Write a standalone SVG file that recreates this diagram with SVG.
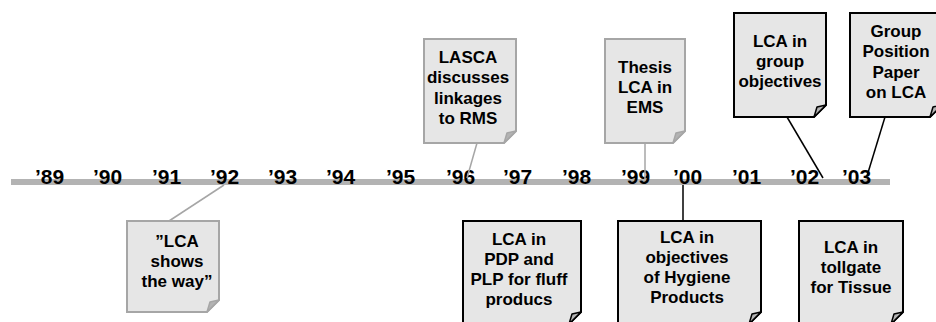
<svg xmlns="http://www.w3.org/2000/svg" width="936" height="322" viewBox="0 0 936 322">
  <style>
    .yr { font-family: "Liberation Sans", Arial, sans-serif; font-weight: bold; font-size: 21px; fill: #000; }
    .nt { font-family: "Liberation Sans", Arial, sans-serif; font-weight: bold; font-size: 17px; fill: #000; text-anchor: middle; }
    .note-g { fill: #e6e6e6; stroke: #a6a6a6; stroke-width: 2; stroke-linejoin: miter; }
    .note-k { fill: #e6e6e6; stroke: #000; stroke-width: 2; stroke-linejoin: miter; }
    .flap-g { fill: #b3b3b3; stroke: #a6a6a6; stroke-width: 1.5; stroke-linejoin: round; }
    .flap-k { fill: #b3b3b3; stroke: #000; stroke-width: 1.5; stroke-linejoin: round; }
    .ln-g { stroke: #a6a6a6; stroke-width: 1.5; fill: none; }
    .ln-k { stroke: #000; stroke-width: 1.5; fill: none; }
  </style>

  <!-- timeline bar -->
  <g id="timeline">
    <rect x="11" y="179" width="879" height="6" fill="#b3b3b3"/>
    <text class="yr" x="35" y="184">’89</text>
    <text class="yr" x="93" y="184">’90</text>
    <text class="yr" x="152" y="184">’91</text>
    <text class="yr" x="210" y="184">’92</text>
    <text class="yr" x="268" y="184">’93</text>
    <text class="yr" x="326" y="184">’94</text>
    <text class="yr" x="386" y="184">’95</text>
    <text class="yr" x="446" y="184">’96</text>
    <text class="yr" x="503" y="184">’97</text>
    <text class="yr" x="562" y="184">’98</text>
    <text class="yr" x="621" y="184">’99</text>
    <text class="yr" x="673" y="184">’00</text>
    <text class="yr" x="732" y="184">’01</text>
    <text class="yr" x="790" y="184">’02</text>
    <text class="yr" x="842" y="184">’03</text>
  </g>

  <!-- notes: folded-corner boxes -->
  <g id="note-shows-the-way">
    <path class="note-g" d="M127 221 H219 V300 L207 312 H127 Z"/>
    <path class="flap-g" d="M219 300 L207 312 L210 302 Z"/>
    <text class="nt" x="177" y="247">”LCA</text>
    <text class="nt" x="177" y="267">shows</text>
    <text class="nt" x="177" y="287">the way”</text>
  </g>

  <g id="note-lasca">
    <path class="note-g" d="M424 39 H516 V131 L504 143 H424 Z"/>
    <path class="flap-g" d="M516 131 L504 143 L507 133 Z"/>
    <text class="nt" x="468" y="63">LASCA</text>
    <text class="nt" x="468" y="83">discusses</text>
    <text class="nt" x="468" y="104">linkages</text>
    <text class="nt" x="468" y="124">to RMS</text>
  </g>

  <g id="note-thesis">
    <path class="note-g" d="M605 39 H685 V131 L673 143 H605 Z"/>
    <path class="flap-g" d="M685 131 L673 143 L676 133 Z"/>
    <text class="nt" x="645" y="73">Thesis</text>
    <text class="nt" x="645" y="93">LCA in</text>
    <text class="nt" x="645" y="113">EMS</text>
  </g>

  <g id="note-group-objectives">
    <path class="note-k" d="M734 13 H826 V105 L814 117 H734 Z"/>
    <path class="flap-k" d="M826 105 L814 117 L817 107 Z"/>
    <text class="nt" x="780" y="47">LCA in</text>
    <text class="nt" x="780" y="67">group</text>
    <text class="nt" x="780" y="87">objectives</text>
  </g>

  <g id="note-position-paper">
    <path class="note-k" d="M850 13 H942 V105 L930 117 H850 Z"/>
    <path class="flap-k" d="M942 105 L930 117 L933 107 Z"/>
    <text class="nt" x="896" y="37">Group</text>
    <text class="nt" x="896" y="57">Position</text>
    <text class="nt" x="896" y="78">Paper</text>
    <text class="nt" x="896" y="98">on LCA</text>
  </g>

  <g id="note-pdp">
    <path class="note-k" d="M463 221 H581 V312 L569 324 H463 Z"/>
    <path class="flap-k" d="M581 312 L569 324 L572 314 Z"/>
    <text class="nt" x="519" y="245">LCA in</text>
    <text class="nt" x="519" y="265">PDP and</text>
    <text class="nt" x="519" y="285">PLP for fluff</text>
    <text class="nt" x="519" y="305">producs</text>
  </g>

  <g id="note-hygiene">
    <path class="note-k" d="M618 221 H761 V312 L749 324 H618 Z"/>
    <path class="flap-k" d="M761 312 L749 324 L752 314 Z"/>
    <text class="nt" x="687" y="243">LCA in</text>
    <text class="nt" x="687" y="263">objectives</text>
    <text class="nt" x="687" y="283">of Hygiene</text>
    <text class="nt" x="687" y="303">Products</text>
  </g>

  <g id="note-tollgate">
    <path class="note-k" d="M799 221 H903 V312 L891 324 H799 Z"/>
    <path class="flap-k" d="M903 312 L891 324 L894 314 Z"/>
    <text class="nt" x="851" y="253">LCA in</text>
    <text class="nt" x="851" y="273">tollgate</text>
    <text class="nt" x="851" y="293">for Tissue</text>
  </g>

  <!-- connectors from notes to the timeline -->
  <g id="connectors">
    <line class="ln-g" x1="169" y1="221" x2="224" y2="185"/>
    <line class="ln-g" x1="477" y1="143" x2="467" y2="178"/>
    <line class="ln-g" x1="645" y1="143" x2="645" y2="179"/>
    <line class="ln-k" x1="787" y1="117" x2="823" y2="178"/>
    <line class="ln-k" x1="885" y1="117" x2="867" y2="176"/>
    <line class="ln-k" x1="683" y1="185" x2="683" y2="221"/>
  </g>
</svg>
